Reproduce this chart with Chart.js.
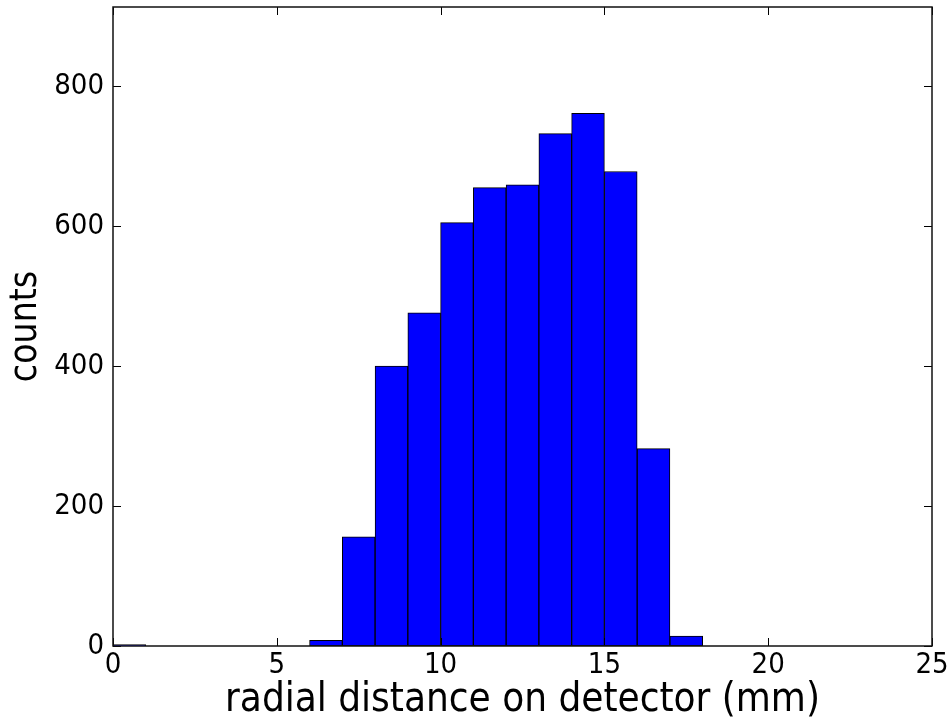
<!DOCTYPE html>
<html>
<head>
<meta charset="utf-8">
<script src="https://cdn.jsdelivr.net/npm/chart.js@4"></script>
<style>
  html, body { margin: 0; padding: 0; background: #fff; }
</style>
</head>
<body>
<canvas id="histChart" width="952" height="725"></canvas>
<script>
// histogram bins (mm), 1 mm wide
var binStarts = [0, 1, 2, 3, 4, 5, 6, 7, 8, 9, 10, 11, 12, 13, 14, 15, 16, 17];
var binCounts = [2, 0, 0, 0, 0, 0, 8, 156, 400, 476, 605, 655, 659, 732, 761, 678, 282, 14];
var xTicks = [0, 5, 10, 15, 20, 25];
var yTicks = [0, 200, 400, 600, 800];

var points = binStarts.map(function(s, i) {
    return { x: s + 0.5, y: binCounts[i] };
});

var fontFamily = "'DejaVu Sans Condensed', 'DejaVu Sans', sans-serif";

// matplotlib style box + inward ticks on all four sides
var framePlugin = {
    id: 'frame',
    afterDraw: function(chart) {
        var ctx = chart.ctx;
        var a = chart.chartArea;
        var xs = chart.scales.x, ys = chart.scales.y;
        var len = 8;
        ctx.save();
        ctx.strokeStyle = '#000';
        ctx.lineWidth = 1;
        ctx.beginPath();
        xTicks.forEach(function(v) {
            var px = Math.round(xs.getPixelForValue(v)) + 0.5;
            ctx.moveTo(px, a.bottom); ctx.lineTo(px, a.bottom - len);
            ctx.moveTo(px, a.top); ctx.lineTo(px, a.top + len);
        });
        yTicks.forEach(function(v) {
            var py = Math.round(ys.getPixelForValue(v)) + 0.5;
            ctx.moveTo(a.left, py); ctx.lineTo(a.left + len, py);
            ctx.moveTo(a.right, py); ctx.lineTo(a.right - len, py);
        });
        ctx.stroke();
        ctx.lineWidth = 1.5;
        ctx.strokeStyle = '#111';
        ctx.strokeRect(a.left, a.top, a.right - a.left, a.bottom - a.top);
        ctx.restore();
    }
};

var ctx = document.getElementById('histChart').getContext('2d');
var histChart = new Chart(ctx, {
    type: 'bar',
    data: {
        datasets: [{
            label: 'counts',
            data: points,
            backgroundColor: '#0000ff',
            borderColor: '#000',
            borderWidth: 1,
            borderSkipped: false,
            barPercentage: 1.0,
            categoryPercentage: 1.0
        }]
    },
    options: {
        responsive: false,
        animation: false,
        layout: {
            padding: { top: 7, right: 20, left: 0, bottom: 0 }
        },
        plugins: {
            legend: { display: false },
            tooltip: { enabled: false }
        },
        scales: {
            x: {
                type: 'linear',
                offset: false,
                min: 0,
                max: 25,
                afterFit: function(scale) {
                    scale.height = 79;
                    scale.paddingLeft = 0;
                    scale.paddingRight = 0;
                },
                afterBuildTicks: function(scale) {
                    scale.ticks = xTicks.map(function(v) { return { value: v }; });
                },
                grid: { display: false, drawTicks: false, offset: false },
                border: { display: false },
                ticks: {
                    padding: 2,
                    color: '#000',
                    font: { family: fontFamily, size: 29 }
                },
                title: {
                    display: true,
                    text: 'radial distance on detector (mm)',
                    color: '#000',
                    padding: { top: 0, bottom: 0 },
                    font: { family: fontFamily, size: 40 }
                }
            },
            y: {
                min: 0,
                max: 913,
                afterFit: function(scale) {
                    scale.width = 113;
                    scale.paddingTop = 0;
                    scale.paddingBottom = 0;
                },
                afterBuildTicks: function(scale) {
                    scale.ticks = yTicks.map(function(v) { return { value: v }; });
                },
                grid: { display: false, drawTicks: false },
                border: { display: false },
                ticks: {
                    padding: 9,
                    color: '#000',
                    font: { family: fontFamily, size: 29 }
                },
                title: {
                    display: true,
                    text: 'counts',
                    color: '#000',
                    padding: { top: 4, bottom: 0 },
                    font: { family: fontFamily, size: 37 }
                }
            }
        }
    },
    plugins: [framePlugin]
});
</script>
</body>
</html>
